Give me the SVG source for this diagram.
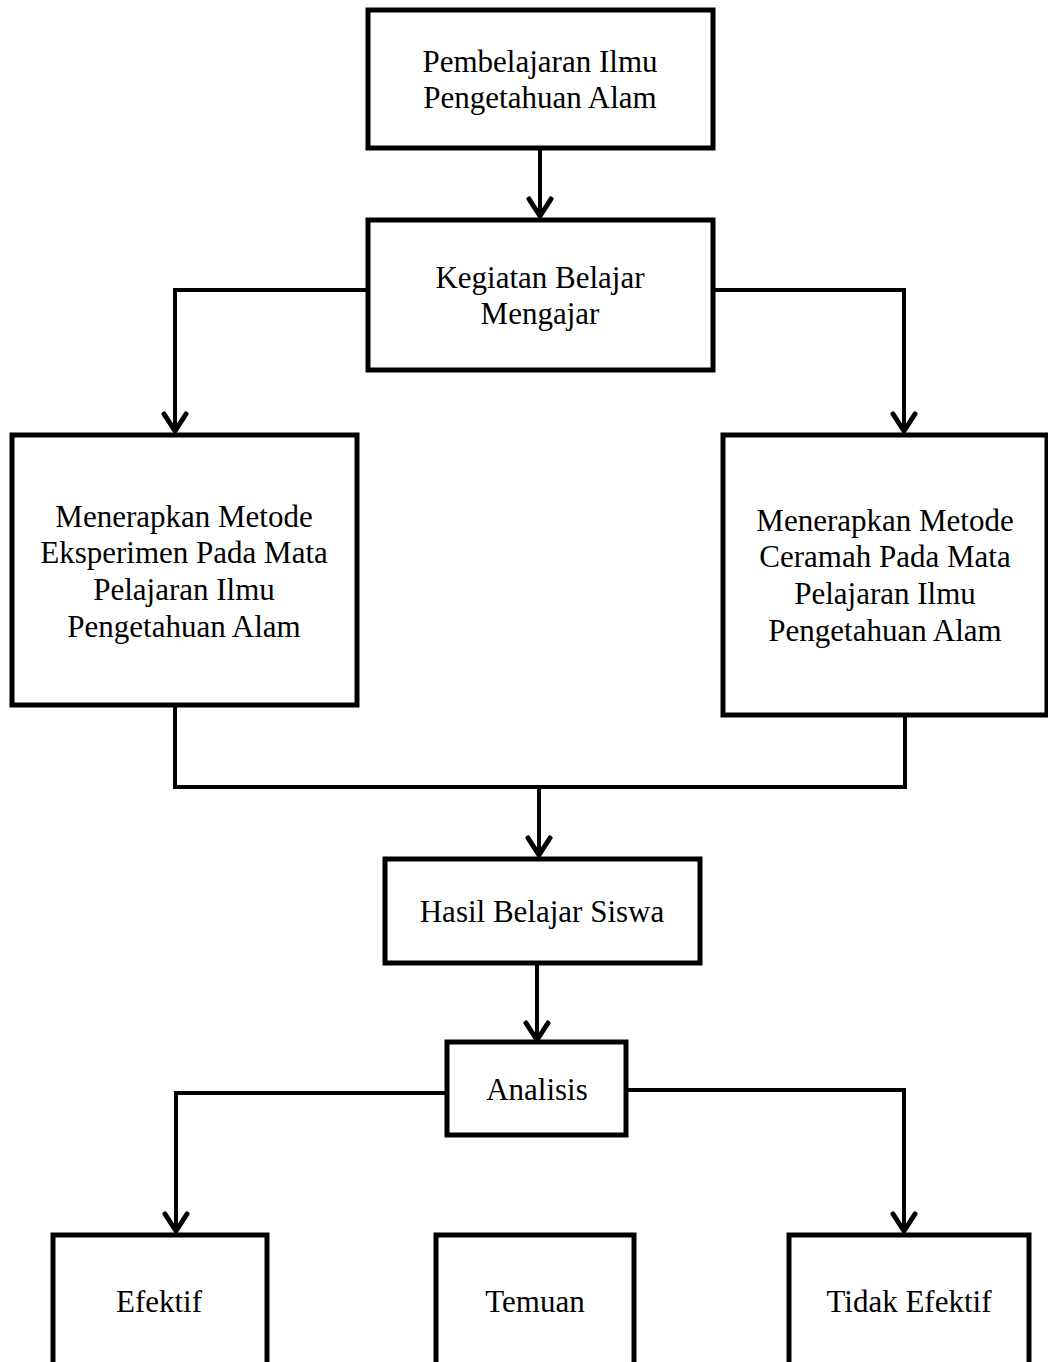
<svg xmlns="http://www.w3.org/2000/svg" width="1048" height="1362" viewBox="0 0 1048 1362">
<defs>
<style>
.box{fill:#fff;stroke:#000;stroke-width:5;stroke-linejoin:miter}
.ln{fill:none;stroke:#000;stroke-width:4}
.ah{fill:none;stroke:#000;stroke-width:5;stroke-linejoin:miter;stroke-linecap:round}
text{font-family:"Liberation Serif","Times New Roman",serif;font-size:31px;fill:#000;text-anchor:middle}
</style>
</defs>
<g id="connectors">
<path class="ln" d="M540,150 L540,216"/>
<path class="ah" d="M529,199 L540,216 L551,199"/>
<path class="ln" d="M368,290 L175,290 L175,431"/>
<path class="ah" d="M164,414 L175,431 L186,414"/>
<path class="ln" d="M713,290 L904,290 L904,431"/>
<path class="ah" d="M893,414 L904,431 L915,414"/>
<path class="ln" d="M175,705 L175,787 L905,787 L905,715"/>
<path class="ln" d="M539,787 L539,855"/>
<path class="ah" d="M528,838 L539,855 L550,838"/>
<path class="ln" d="M537,963 L537,1040"/>
<path class="ah" d="M526,1023 L537,1040 L548,1023"/>
<path class="ln" d="M447,1093 L176,1093 L176,1231"/>
<path class="ah" d="M165,1214 L176,1231 L187,1214"/>
<path class="ln" d="M626,1090 L904,1090 L904,1231"/>
<path class="ah" d="M893,1214 L904,1231 L915,1214"/>
</g>
<g id="n1"><rect class="box" x="368" y="10" width="345" height="138"/><text x="540" y="72">Pembelajaran Ilmu</text><text x="540" y="108">Pengetahuan Alam</text></g>
<g id="n2"><rect class="box" x="368" y="220" width="345" height="150"/><text x="540" y="288">Kegiatan Belajar</text><text x="540" y="324">Mengajar</text></g>
<g id="n3"><rect class="box" x="12" y="435" width="345" height="270"/><text x="184" y="527">Menerapkan Metode</text><text x="184" y="563">Eksperimen Pada Mata</text><text x="184" y="600">Pelajaran Ilmu</text><text x="184" y="637">Pengetahuan Alam</text></g>
<g id="n4"><rect class="box" x="723" y="435" width="324" height="280"/><text x="885" y="531">Menerapkan Metode</text><text x="885" y="567">Ceramah Pada Mata</text><text x="885" y="604">Pelajaran Ilmu</text><text x="885" y="641">Pengetahuan Alam</text></g>
<g id="n5"><rect class="box" x="385" y="859" width="315" height="104"/><text x="542" y="922">Hasil Belajar Siswa</text></g>
<g id="n6"><rect class="box" x="447" y="1042" width="179" height="93"/><text x="537" y="1100">Analisis</text></g>
<g id="n7"><rect class="box" x="53" y="1235" width="214" height="140"/><text x="159" y="1312">Efektif</text></g>
<g id="n8"><rect class="box" x="436" y="1235" width="198" height="140"/><text x="535" y="1312">Temuan</text></g>
<g id="n9"><rect class="box" x="789" y="1235" width="240" height="140"/><text x="909" y="1312">Tidak Efektif</text></g>
</svg>
